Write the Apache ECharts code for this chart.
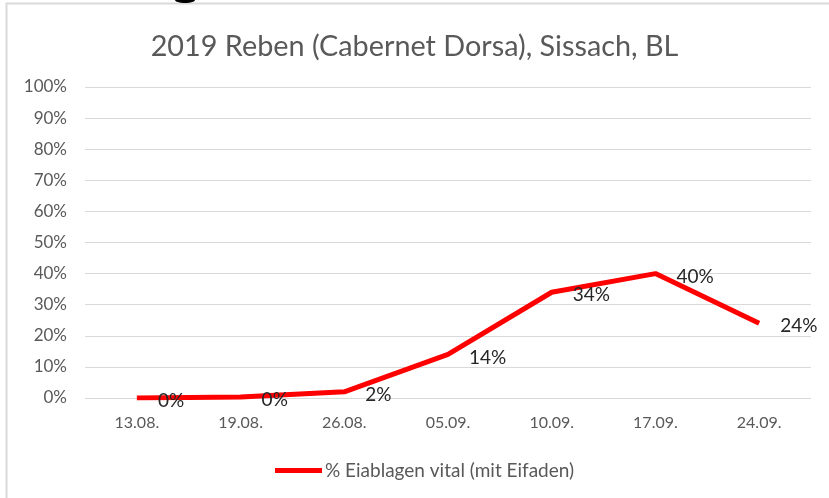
<!DOCTYPE html>
<html>
<head>
<meta charset="utf-8">
<script src="https://cdn.jsdelivr.net/npm/echarts@6/dist/echarts.min.js"></script>
<style>
  html, body { margin: 0; padding: 0; background: #fff; }
  #chart { width: 829px; height: 498px; }
</style>
</head>
<body>
<div id="chart"></div>
<script>
(function () {

  // Daten
  var categories = ['13.08.', '19.08.', '26.08.', '05.09.', '10.09.', '17.09.', '24.09.'];
  var eiablagen = [0, 0.3, 2, 14, 34, 40, 24];
  var yTicks = [0, 10, 20, 30, 40, 50, 60, 70, 80, 90, 100];

  var titleText = '2019 Reben (Cabernet Dorsa), Sissach, BL';
  var seriesName = '% Eiablagen vital (mit Eifaden)';
  var fontFam = 'Lato, "Open Sans", sans-serif';

  var myChart = echarts.init(document.getElementById('chart'));

  var option = {
    animation: false,
    backgroundColor: '#fff',
    title: {
      text: titleText,
      left: 'center',
      top: 27,
      textStyle: {
        fontFamily: fontFam,
        fontSize: 28.8,
        fontWeight: 'normal',
        color: '#595959'
      }
    },
    legend: {
      data: [seriesName],
      left: 270,
      top: 456,
      itemWidth: 47,
      itemHeight: 5,
      itemGap: 4,
      icon: 'rect',
      textStyle: {
        fontFamily: fontFam,
        fontSize: 19,
        color: '#595959',
        padding: [0, 0, 0, -2]
      }
    },
    grid: {
      left: 85,
      right: 18,
      top: 87,
      bottom: 100,
      containLabel: false
    },
    xAxis: {
      type: 'category',
      data: categories,
      boundaryGap: true,
      axisLine: { show: false },
      axisTick: { show: false },
      axisLabel: {
        margin: 17,
        fontFamily: fontFam,
        fontSize: 16,
        color: '#595959'
      }
    },
    yAxis: {
      type: 'value',
      min: yTicks[0],
      max: yTicks[yTicks.length - 1],
      interval: 10,
      axisLine: { show: false },
      axisTick: { show: false },
      splitLine: { lineStyle: { color: '#d9d9d9', width: 1 } },
      axisLabel: {
        margin: 18,
        fontFamily: fontFam,
        fontSize: 17,
        color: '#595959',
        formatter: function (v) { return v + '%'; }
      }
    },
    series: [{
      name: seriesName,
      type: 'line',
      data: eiablagen,
      showSymbol: true,
      symbol: 'circle',
      symbolSize: 0.1,
      lineStyle: { color: '#ff0000', width: 5 },
      itemStyle: { color: '#ff0000' },
      label: {
        show: true,
        position: 'right',
        distance: 21,
        offset: [0, 3],
        fontFamily: fontFam,
        fontSize: 19,
        color: '#262626',
        formatter: function (p) { return Math.round(p.value) + '%'; }
      }
    }],
    graphic: [
      {
        type: 'rect',
        silent: true,
        shape: { x: 6.5, y: 3.5, width: 840, height: 520 },
        style: { fill: 'none', stroke: '#d9d9d9', lineWidth: 2 }
      },
      {
        type: 'ellipse',
        silent: true,
        shape: { cx: 185, cy: 0, rx: 10, ry: 3 },
        style: { fill: '#000' }
      }
    ]
  };

  myChart.setOption(option);
}());
</script>
</body>
</html>
